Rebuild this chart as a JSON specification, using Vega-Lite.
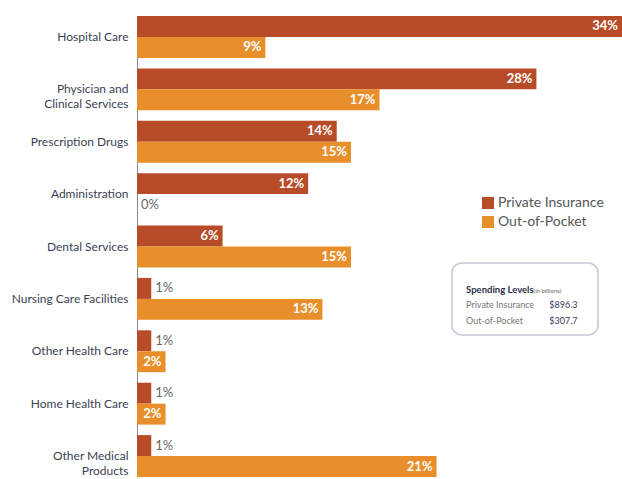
{
  "$schema": "https://vega.github.io/schema/vega-lite/v6.json",
  "width": 485,
  "height": 461,
  "autosize": {"type": "none"},
  "padding": {"left": 137, "top": 16, "right": 0, "bottom": 2},
  "background": "white",
  "config": {"view": {"stroke": null}, "font": "Lato"},
  "datasets": {
    "shares": [
      {"category": "Hospital Care", "series": "Private Insurance", "value": 0.34},
      {"category": "Hospital Care", "series": "Out-of-Pocket", "value": 0.09},
      {"category": "Physician and|Clinical Services", "series": "Private Insurance", "value": 0.28},
      {"category": "Physician and|Clinical Services", "series": "Out-of-Pocket", "value": 0.17},
      {"category": "Prescription Drugs", "series": "Private Insurance", "value": 0.14},
      {"category": "Prescription Drugs", "series": "Out-of-Pocket", "value": 0.15},
      {"category": "Administration", "series": "Private Insurance", "value": 0.12},
      {"category": "Administration", "series": "Out-of-Pocket", "value": 0.0},
      {"category": "Dental Services", "series": "Private Insurance", "value": 0.06},
      {"category": "Dental Services", "series": "Out-of-Pocket", "value": 0.15},
      {"category": "Nursing Care Facilities", "series": "Private Insurance", "value": 0.01},
      {"category": "Nursing Care Facilities", "series": "Out-of-Pocket", "value": 0.13},
      {"category": "Other Health Care", "series": "Private Insurance", "value": 0.01},
      {"category": "Other Health Care", "series": "Out-of-Pocket", "value": 0.02},
      {"category": "Home Health Care", "series": "Private Insurance", "value": 0.01},
      {"category": "Home Health Care", "series": "Out-of-Pocket", "value": 0.02},
      {"category": "Other Medical|Products", "series": "Private Insurance", "value": 0.01},
      {"category": "Other Medical|Products", "series": "Out-of-Pocket", "value": 0.21}
    ]
  },
  "layer": [
    {
      "data": {"name": "shares"},
      "mark": {"type": "bar"},
      "encoding": {
        "y": {
          "field": "category", "type": "nominal", "sort": null,
          "scale": {"paddingInner": 0.2, "paddingOuter": 0},
          "axis": {
            "title": null, "ticks": false, "labelPadding": 9,
            "labelExpr": "split(datum.label, '|')",
            "labelFontSize": 12, "labelColor": "#3b3f55", "labelLineHeight": 15,
            "domainColor": "#8a8a8a", "domainWidth": 1, "labelFont": "Lato"
          }
        },
        "yOffset": {
          "field": "series", "type": "nominal",
          "sort": ["Private Insurance", "Out-of-Pocket"],
          "scale": {"paddingInner": 0, "paddingOuter": 0}
        },
        "x": {
          "field": "value", "type": "quantitative",
          "scale": {"domain": [0, 0.34], "nice": false, "zero": true},
          "axis": null
        },
        "color": {
          "field": "series", "type": "nominal",
          "sort": ["Private Insurance", "Out-of-Pocket"],
          "scale": {"domain": ["Private Insurance", "Out-of-Pocket"], "range": ["#b84b28", "#e88f2b"]},
          "legend": {
            "orient": "none", "legendX": 344, "legendY": 180, "title": null,
            "symbolType": "square", "symbolSize": 144, "symbolStrokeWidth": 0,
            "labelFontSize": 14, "labelColor": "#555555", "labelOffset": 3,
            "rowPadding": 5, "padding": 0
          }
        }
      }
    },
    {
      "data": {"name": "shares"},
      "transform": [{"filter": "datum.value >= 0.02"}],
      "mark": {"type": "text", "align": "right", "baseline": "middle", "dx": -4, "fontSize": 13, "fontWeight": "bold", "color": "white"},
      "encoding": {
        "y": {"field": "category", "type": "nominal", "sort": null},
        "yOffset": {"field": "series", "type": "nominal", "sort": ["Private Insurance", "Out-of-Pocket"]},
        "x": {"field": "value", "type": "quantitative"},
        "text": {"field": "value", "type": "quantitative", "format": ".0%"}
      }
    },
    {
      "data": {"name": "shares"},
      "transform": [{"filter": "datum.value < 0.02"}],
      "mark": {"type": "text", "align": "left", "baseline": "middle", "dx": 4, "fontSize": 13, "color": "#666666"},
      "encoding": {
        "y": {"field": "category", "type": "nominal", "sort": null},
        "yOffset": {"field": "series", "type": "nominal", "sort": ["Private Insurance", "Out-of-Pocket"]},
        "x": {"field": "value", "type": "quantitative"},
        "text": {"field": "value", "type": "quantitative", "format": ".0%"}
      }
    },
    {
      "data": {"values": [{"name": "box"}]},
      "mark": {"type": "bar", "height": 72, "cornerRadius": 10, "fill": "white", "stroke": "#c4c7d6", "strokeWidth": 1.5},
      "encoding": {
        "y": {"datum": "Nursing Care Facilities", "type": "nominal"},
        "x": {"datum": 0.2208, "type": "quantitative"},
        "x2": {"datum": 0.3232}
      }
    },
    {
      "data": {"values": [{"text": "Spending Levels"}]},
      "mark": {"type": "text", "align": "left", "baseline": "alphabetic", "dy": -6, "fontSize": 9.5, "fontWeight": "bold", "color": "#2b2f48"},
      "encoding": {
        "y": {"datum": "Nursing Care Facilities", "type": "nominal"},
        "x": {"datum": 0.2307, "type": "quantitative"},
        "text": {"field": "text"}
      }
    },
    {
      "data": {"values": [{"text": "(in billions)"}]},
      "mark": {"type": "text", "align": "left", "baseline": "alphabetic", "dy": -6, "fontSize": 6, "color": "#666666"},
      "encoding": {
        "y": {"datum": "Nursing Care Facilities", "type": "nominal"},
        "x": {"datum": 0.2780, "type": "quantitative"},
        "text": {"field": "text"}
      }
    },
    {
      "data": {"values": [{"text": "Private Insurance|Out-of-Pocket"}]},
      "mark": {"type": "text", "align": "left", "baseline": "alphabetic", "dy": 9, "lineHeight": 16, "lineBreak": "|", "fontSize": 9, "color": "#777777"},
      "encoding": {
        "y": {"datum": "Nursing Care Facilities", "type": "nominal"},
        "x": {"datum": 0.2307, "type": "quantitative"},
        "text": {"field": "text"}
      }
    },
    {
      "data": {"values": [{"text": "$896.3|$307.7"}]},
      "mark": {"type": "text", "align": "left", "baseline": "alphabetic", "dy": 9, "lineHeight": 16, "lineBreak": "|", "fontSize": 9, "color": "#333a5c"},
      "encoding": {
        "y": {"datum": "Nursing Care Facilities", "type": "nominal"},
        "x": {"datum": 0.2890, "type": "quantitative"},
        "text": {"field": "text"}
      }
    }
  ]
}
